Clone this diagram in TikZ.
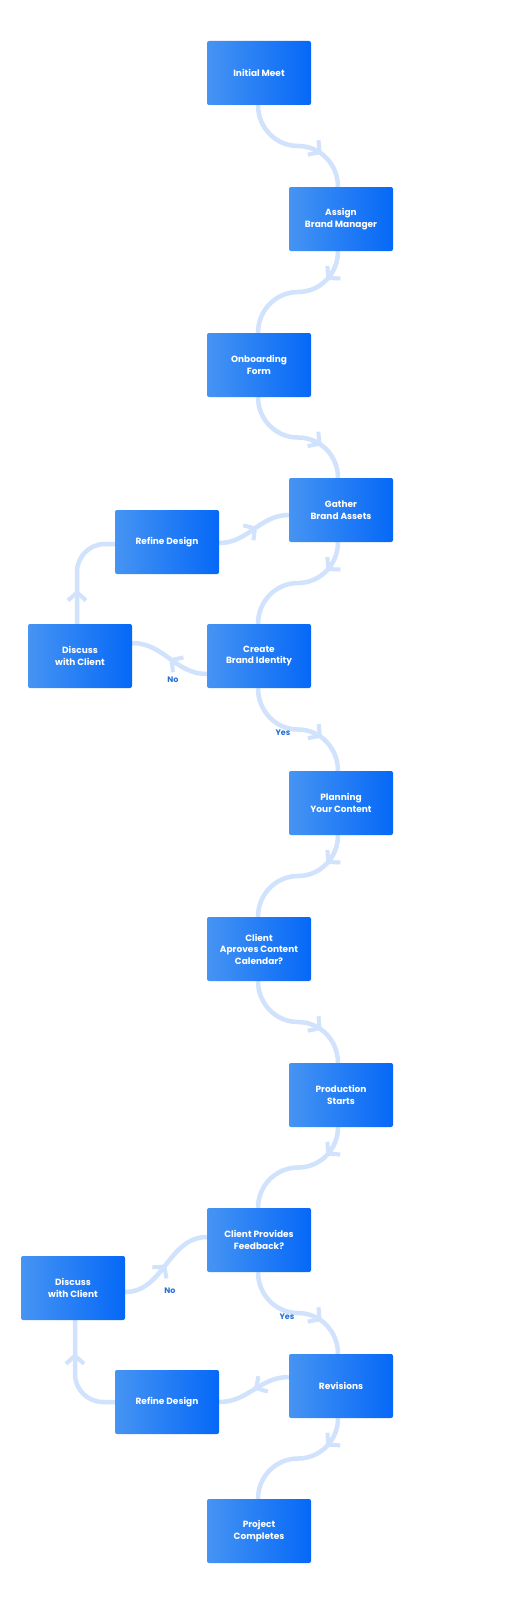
\documentclass[tikz,border=0pt]{standalone}
\usepackage{fontspec}
\setmainfont{Poppins}
\usetikzlibrary{arrows.meta,decorations.markings,backgrounds,calc}
\definecolor{boxL}{RGB}{70,148,243}
\definecolor{boxR}{RGB}{5,104,247}
\definecolor{lineC}{RGB}{208,226,252}
\definecolor{lblC}{RGB}{40,110,215}
\tikzset{
  box/.style={rectangle, rounded corners=2pt, minimum width=104pt, minimum height=64pt,
    inner sep=0pt, left color=boxL, right color=boxR, text=white,
    font=\fontsize{9}{11.5}\selectfont\bfseries, align=center},
  conn/.style={draw=lineC, line width=4.5pt},
  mk/.style={postaction={decorate, decoration={markings,
    mark=at position #1 with {\arrow[lineC, line width=4pt]{Straight Barb[length=8pt,width=18pt]}}}}},
  lbl/.style={text=lblC, font=\fontsize{8}{9}\selectfont\bfseries, inner sep=0pt},
}
\begin{document}
\begin{tikzpicture}[x=1pt,y=-1pt]
\useasboundingbox (0,0) rectangle (504,1600);
% main column
\node[box] (im)  at (259,73)   {Initial Meet};
\node[box] (abm) at (341,219)  {Assign\\Brand Manager};
\node[box] (of)  at (259,365)  {Onboarding\\Form};
\node[box] (gba) at (341,510)  {Gather\\Brand Assets};
\node[box] (cbi) at (259,656)  {Create\\Brand Identity};
\node[box] (pyc) at (341,803)  {Planning\\Your Content};
\node[box] (cac) at (259,949)  {Client\\Aproves Content\\Calendar?};
\node[box] (ps)  at (341,1095) {Production\\Starts};
\node[box] (cpf) at (259,1240) {Client Provides\\Feedback?};
\node[box] (rev) at (341,1386) {Revisions};
\node[box] (pc)  at (259,1531) {Project\\Completes};
% loops
\node[box] (rd1) at (167,542)  {Refine Design};
\node[box] (dc1) at (80,656)   {Discuss\\with Client};
\node[box] (dc2) at (73,1288)  {Discuss\\with Client};
\node[box] (rd2) at (167,1402) {Refine Design};
% labels
\node[lbl] (no1)  at (173,680)  {No};
\node[lbl] (yes1) at (283,733)  {Yes};
\node[lbl] (no2)  at (170,1291) {No};
\node[lbl] (yes2) at (287,1317) {Yes};

\begin{scope}[on background layer]
\fill[white] (0,0) rectangle (504,1600);
% L -> R
\foreach \a/\b in {im/abm, of/gba, cbi/pyc, cac/ps, cpf/rev}{
  \draw[conn, mk=0.7] ([xshift=-1pt]\a.south) to[out=-90,in=180]
    ($([xshift=-1pt]\a.south)!0.5!([xshift=-3pt]\b.north)$) to[out=0,in=90] ([xshift=-3pt]\b.north);
}
% R -> L
\foreach \a/\b in {abm/of, gba/cbi, pyc/cac, ps/cpf, rev/pc}{
  \draw[conn, mk=0.25] ([xshift=-3pt]\a.south) to[out=-90,in=0]
    ($([xshift=-3pt]\a.south)!0.5!([xshift=-1pt]\b.north)$) to[out=180,in=90] ([xshift=-1pt]\b.north);
}
% top loop
\draw[conn, mk=0.5] ([yshift=-18pt]cbi.west) to[out=180,in=0] ([yshift=13pt]dc1.east);
\draw[conn, mk=34pt, rounded corners=28pt] ([xshift=-3pt]dc1.north) |- ([yshift=-2pt]rd1.west);
\draw[conn, mk=0.55] ([yshift=-1pt]rd1.east) to[out=0,in=180] ([yshift=-5pt]gba.west);
% bottom loop
\draw[conn, mk=0.5] ([yshift=9pt]rev.west) to[out=180,in=0] (rd2.east);
\draw[conn, mk=0.7, rounded corners=28pt] (rd2.west) -| ([xshift=2pt]dc2.south);
\draw[conn, mk=0.5] ([yshift=-4pt]dc2.east) to[out=0,in=180] ([yshift=3pt]cpf.west);
\end{scope}
\end{tikzpicture}
\end{document}
